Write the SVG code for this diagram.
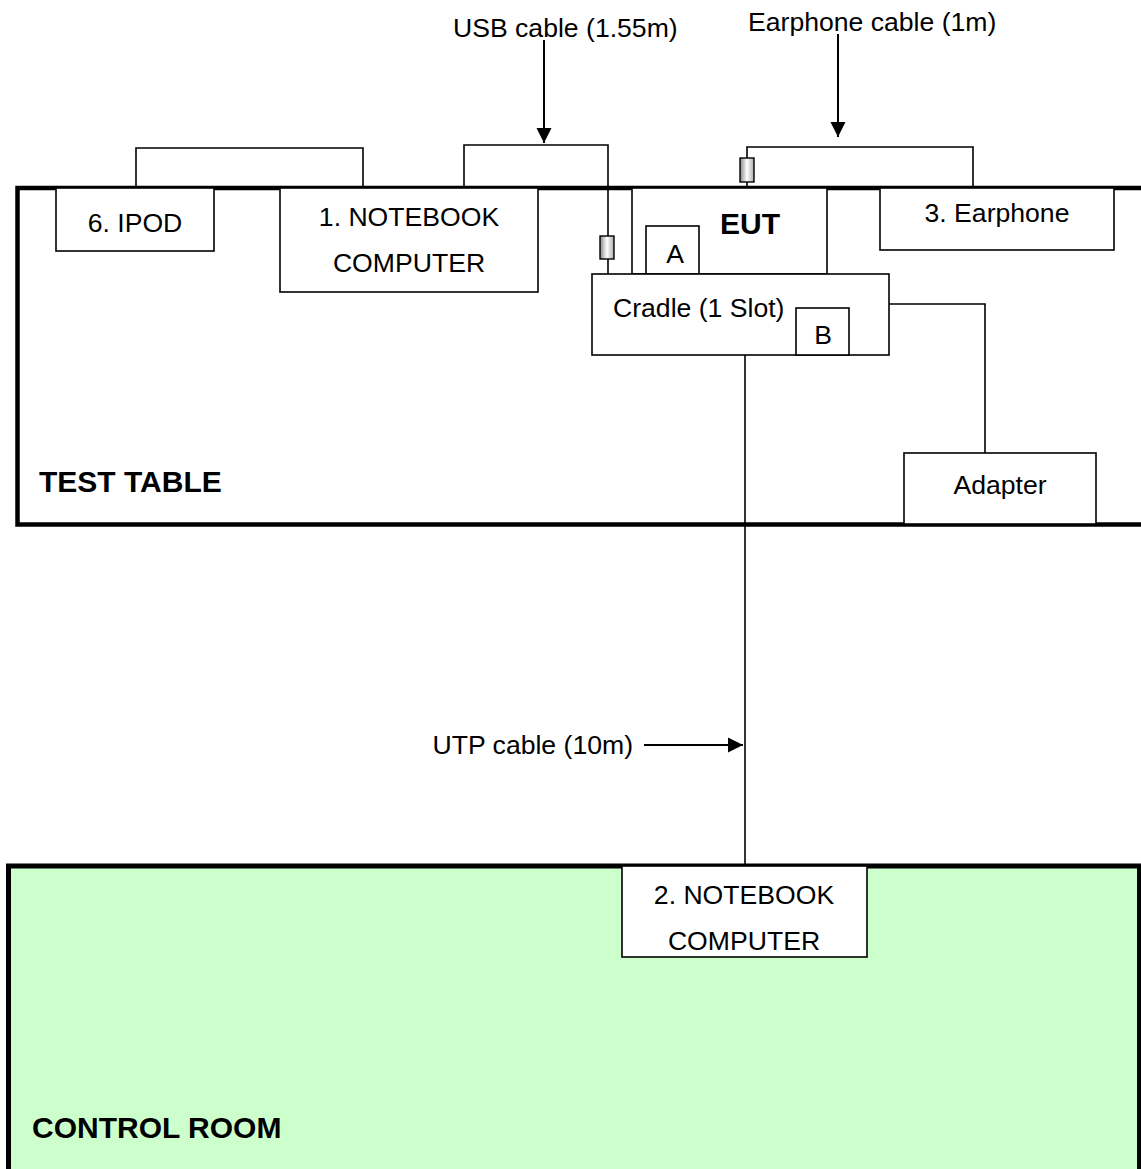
<svg xmlns="http://www.w3.org/2000/svg" width="1141" height="1169" viewBox="0 0 1141 1169">
<style>
.box{fill:#fff;stroke:#000;stroke-width:1.6}
.wire{fill:none;stroke:#000;stroke-width:1.6}
.arrow{fill:none;stroke:#000;stroke-width:2}
.t{font-family:"Liberation Sans",Arial,sans-serif;font-size:26.6px;fill:#000}
.b{font-family:"Liberation Sans",Arial,sans-serif;font-size:30px;font-weight:bold;fill:#000}
.plug{fill:url(#pg);stroke:#000;stroke-width:1.4}
</style>
<defs>
<linearGradient id="pg" x1="0" y1="0" x2="1" y2="0">
<stop offset="0" stop-color="#888"/>
<stop offset="0.5" stop-color="#fff"/>
<stop offset="1" stop-color="#aaa"/>
</linearGradient>
<marker id="ah" viewBox="0 0 10 10" refX="10" refY="5" markerWidth="15" markerHeight="15" markerUnits="userSpaceOnUse" orient="auto" overflow="visible">
<path d="M0,0 L10,5 L0,10 Z" fill="#000"/>
</marker>
</defs>
<rect width="1141" height="1169" fill="#fff"/>

<g id="test-table">
<path d="M1145,188 L17.5,188 L17.5,524.5 L1145,524.5" fill="none" stroke="#000" stroke-width="4.5"/>
<text class="b" x="39" y="492">TEST TABLE</text>
</g>

<g id="control-room">
<rect x="8.5" y="866" width="1131" height="320" fill="#CCFFCC" stroke="#000" stroke-width="5"/>
<text class="b" x="32" y="1138">CONTROL ROOM</text>
</g>

<g id="connectors">
<polyline class="wire" points="136,188 136,148 363,148 363,188"/>
<polyline class="wire" points="464,188 464,145 608,145 608,274"/>
<polyline class="wire" points="747,188 747,147 973,147 973,188"/>
<polyline class="wire" points="889,304 985,304 985,453"/>
<line class="wire" x1="745" y1="355" x2="745" y2="866"/>
<rect class="plug" x="600" y="236" width="14" height="23"/>
<rect class="plug" x="740" y="158" width="14" height="24"/>
</g>

<g id="labels">
<text class="t" x="453" y="37">USB cable (1.55m)</text>
<line class="arrow" x1="544" y1="40" x2="544" y2="143" marker-end="url(#ah)"/>
<text class="t" x="748" y="31">Earphone cable (1m)</text>
<line class="arrow" x1="838" y1="34" x2="838" y2="137" marker-end="url(#ah)"/>
<text class="t" x="633" y="754" text-anchor="end">UTP cable (10m)</text>
<line class="arrow" x1="644" y1="745" x2="743" y2="745" marker-end="url(#ah)"/>
</g>

<g id="ipod">
<rect class="box" x="56" y="188" width="158" height="63"/>
<text class="t" x="135" y="232" text-anchor="middle">6. IPOD</text>
</g>

<g id="notebook1">
<rect class="box" x="280" y="188" width="258" height="104"/>
<text class="t" x="409" y="226" text-anchor="middle">1. NOTEBOOK</text>
<text class="t" x="409" y="272" text-anchor="middle">COMPUTER</text>
</g>

<g id="eut">
<rect class="box" x="632" y="188" width="195" height="86"/>
<text class="b" x="750" y="234" text-anchor="middle">EUT</text>
</g>

<g id="port-a">
<rect class="box" x="646" y="226" width="53" height="48"/>
<text class="t" x="675" y="263" text-anchor="middle">A</text>
</g>

<g id="cradle">
<rect class="box" x="592" y="274" width="297" height="81"/>
<text class="t" x="613" y="317">Cradle (1 Slot)</text>
</g>

<g id="port-b">
<rect class="box" x="796" y="308" width="53" height="47"/>
<text class="t" x="823" y="344" text-anchor="middle">B</text>
</g>

<g id="earphone">
<rect class="box" x="880" y="188" width="234" height="62"/>
<text class="t" x="997" y="222" text-anchor="middle">3. Earphone</text>
</g>

<g id="adapter">
<rect class="box" x="904" y="453" width="192" height="71"/>
<text class="t" x="1000" y="494" text-anchor="middle">Adapter</text>
</g>

<g id="notebook2">
<rect class="box" x="622" y="866" width="245" height="91"/>
<text class="t" x="744" y="904" text-anchor="middle">2. NOTEBOOK</text>
<text class="t" x="744" y="950" text-anchor="middle">COMPUTER</text>
</g>
</svg>
